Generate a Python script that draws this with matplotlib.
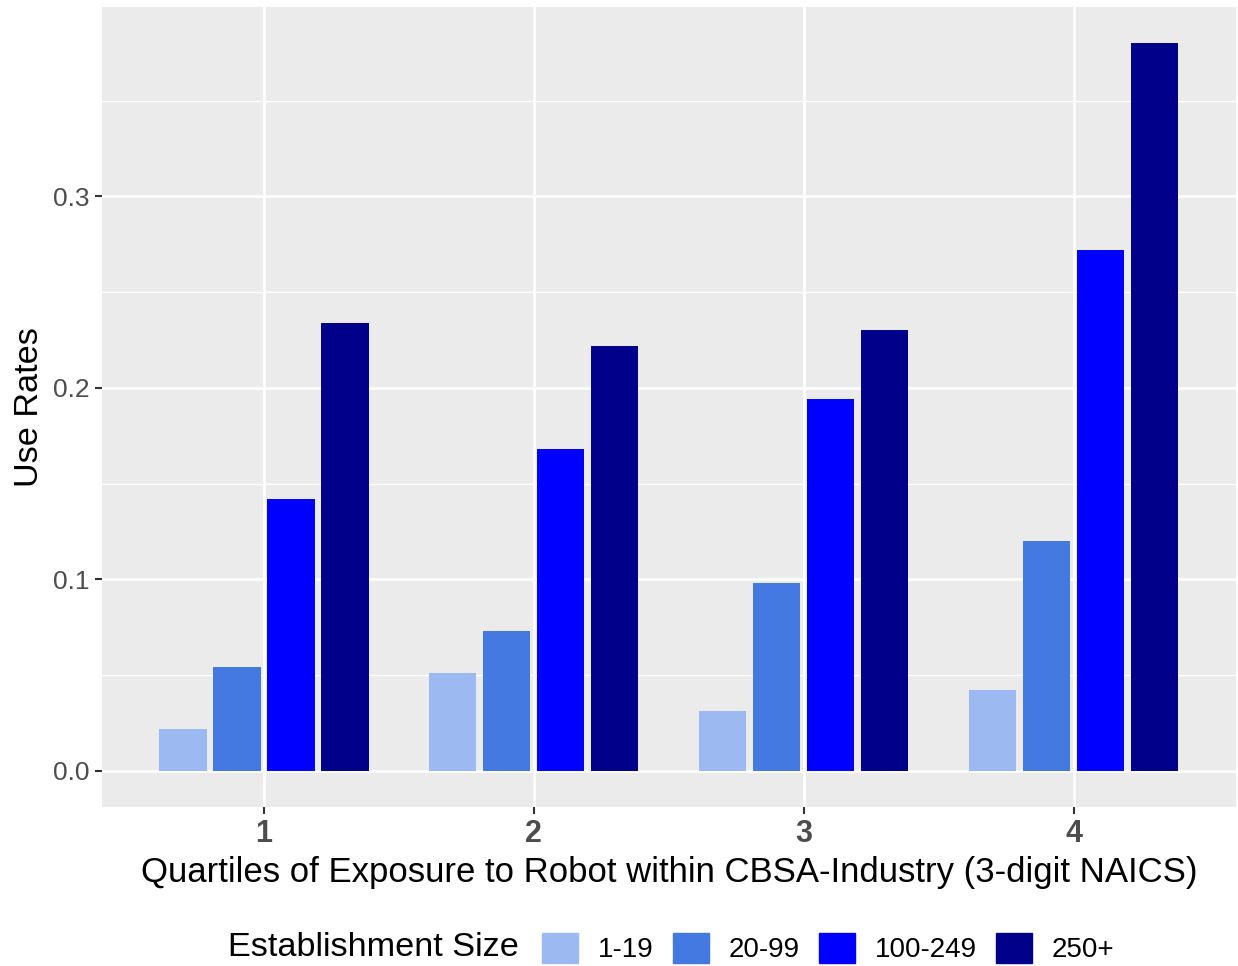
import matplotlib.pyplot as plt
import matplotlib.patches as mpatches
import numpy as np

plt.rcParams['font.family'] = ['Liberation Sans', 'DejaVu Sans']

# data
quartiles = ['1', '2', '3', '4']
sizes = ['1-19', '20-99', '100-249', '250+']
rate_1_19 = [0.022, 0.051, 0.031, 0.042]
rate_20_99 = [0.054, 0.073, 0.098, 0.120]
rate_100_249 = [0.142, 0.168, 0.194, 0.272]
rate_250p = [0.234, 0.222, 0.230, 0.380]
colors = ['#9DB9F1', '#4479E1', '#0000FF', '#00008B']

series = [rate_1_19, rate_20_99, rate_100_249, rate_250p]

fig = plt.figure(figsize=(12.38, 9.66), dpi=100)
ax = fig.add_axes([0.0824, 0.1646, 0.9156, 0.8282])
ax.set_facecolor('#EBEBEB')

x = np.arange(len(quartiles))
offsets = [-0.3, -0.1, 0.1, 0.3]
for vals, off, c in zip(series, offsets, colors):
    ax.bar(x + off, vals, width=0.175, color=c, zorder=3)

ax.set_xlim(-0.6, 3.6)
ax.set_ylim(-0.019, 0.399)
ax.set_yticks([0.0, 0.1, 0.2, 0.3])
ax.set_yticklabels(['0.0', '0.1', '0.2', '0.3'])
ax.set_yticks([0.05, 0.15, 0.25, 0.35], minor=True)
ax.set_xticks(x)
ax.set_xticklabels(quartiles, fontweight='bold')
ax.grid(which='major', color='white', linewidth=2.0, zorder=0)
ax.grid(which='minor', axis='y', color='white', linewidth=1.0, zorder=0)
ax.set_axisbelow(True)
for s in ax.spines.values():
    s.set_visible(False)
ax.tick_params(axis='y', which='major', labelsize=19, colors='#333333',
               labelcolor='#4D4D4D', length=5, width=1.5, pad=4)
ax.tick_params(axis='x', which='major', labelsize=22, colors='#333333',
               labelcolor='#4D4D4D', length=5, width=1.5, pad=4)
ax.tick_params(which='minor', length=0)

ax.set_xlabel('Quartiles of Exposure to Robot within CBSA-Industry (3-digit NAICS)',
              fontsize=25, labelpad=5)
ax.set_ylabel('Use Rates', fontsize=24.7, labelpad=6)

# legend at the bottom with the title on the left
fig.text(228 / 1238, 1 - 947 / 966, 'Establishment Size', fontsize=24.7,
         va='center', ha='left')
handles = [mpatches.Patch(color=c, label=s) for c, s in zip(colors, sizes)]
fig.legend(handles=handles, loc='center left', ncol=4, frameon=False,
           bbox_to_anchor=(542 / 1238, 1 - 948 / 966), fontsize=20,
           handlelength=1.3, handleheight=1.3, handletextpad=0.7,
           columnspacing=0.7, borderaxespad=0, borderpad=0)

fig.savefig('out.png', dpi=100)
